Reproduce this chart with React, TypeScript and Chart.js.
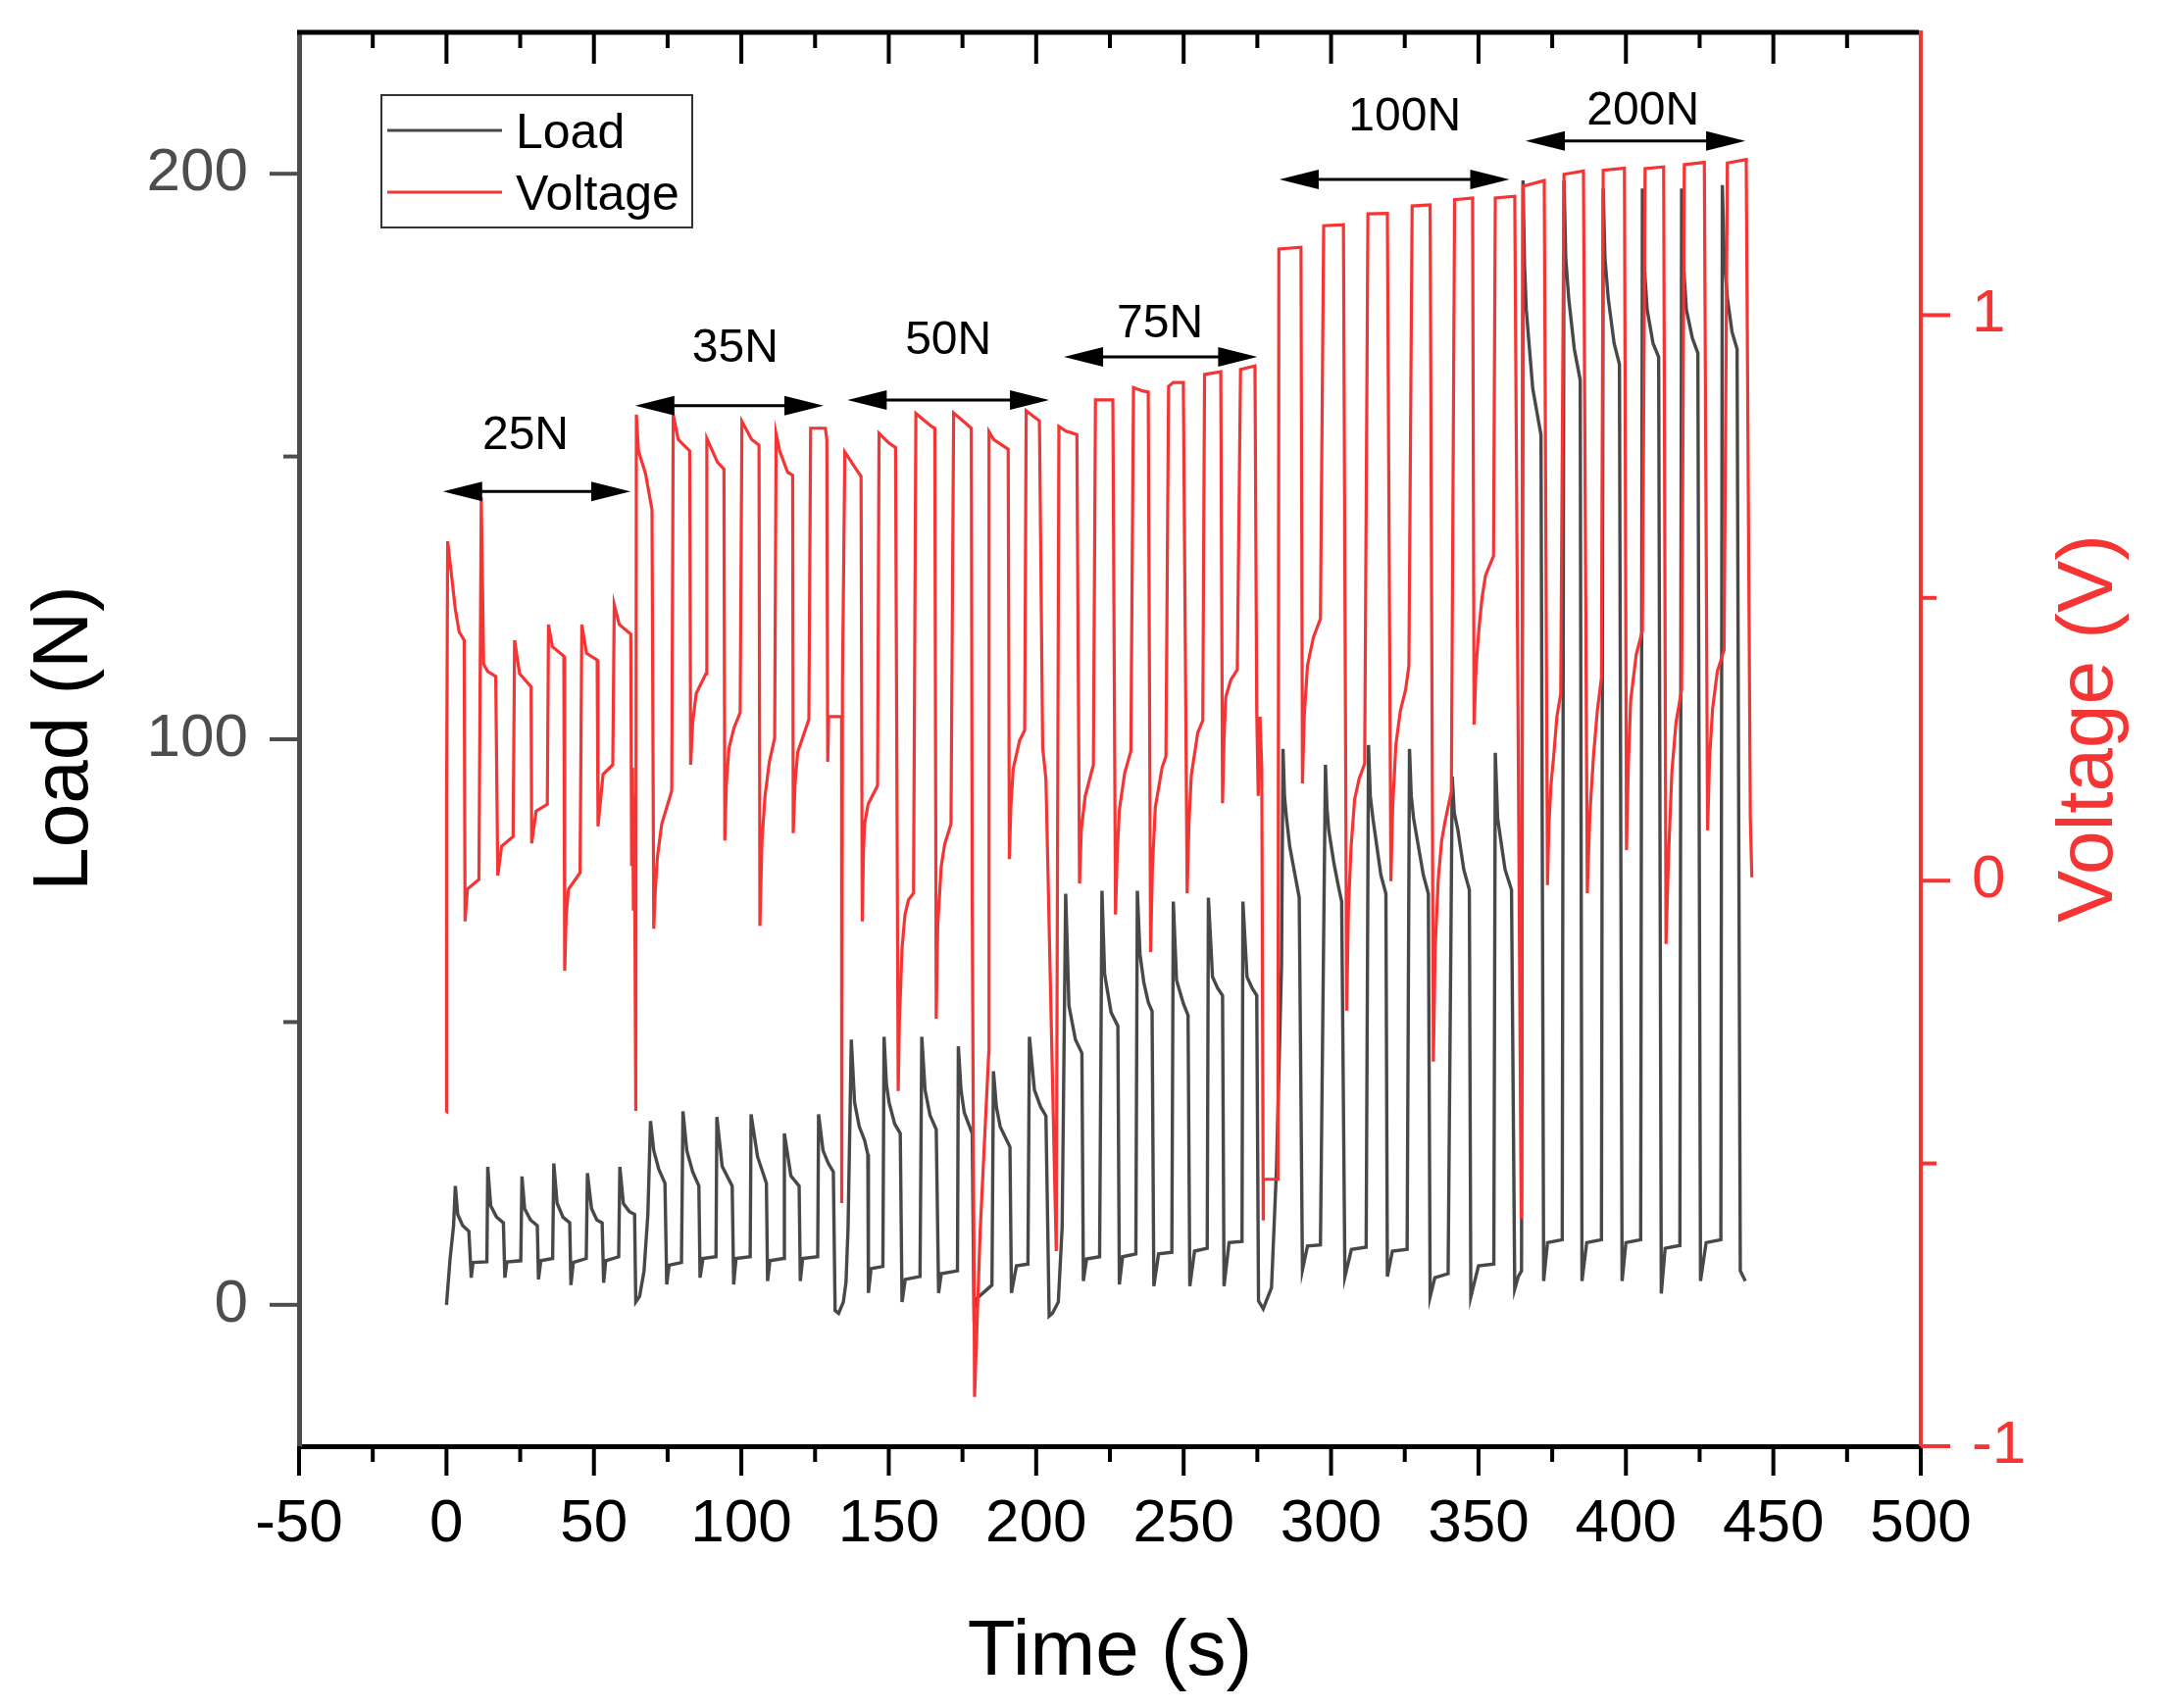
import React, { useEffect, useRef } from "react";
import { Chart, registerables } from "chart.js";

Chart.register(...registerables);

// ---------------- DATA (time s, value) ----------------
const load25: number[][] = [
  [0, 0], [1.2, 8], [2.4, 14], [3.0, 21], [3.8, 16], [5.5, 14], [7.6, 13], [8.4, 4.8], [9.0, 7.5], [13.7, 7.6],
  [14.0, 24.4], [15.0, 17.5], [17.0, 15.5], [19.3, 14.5], [19.8, 4.8], [20.5, 7.6], [25.2, 7.8],
  [25.6, 22.7], [26.5, 17.0], [28.5, 15.0], [30.8, 14.0], [31.2, 4.5], [32.0, 7.8], [36.0, 8.2],
  [36.4, 25.0], [37.5, 18.0], [39.5, 15.5], [41.8, 14.5], [42.2, 3.5], [43.0, 7.5], [47.4, 8.2],
  [47.8, 23.3], [49.2, 17.0], [51.0, 15.0], [52.8, 14.5], [53.3, 3.9], [54.0, 7.8], [58.4, 8.5],
  [58.8, 24.4], [60.0, 17.9], [62.0, 16.5], [63.8, 16.0], [64.2, 0.5],
];
const load35: number[][] = [
  [65.5, 1.5], [67.0, 6.0], [68.3, 16.0], [69.2, 32.5], [70.3, 27.3], [72.0, 24.0], [74.1, 21.5], [74.7, 3.6], [75.5, 7.0], [79.7, 7.5],
  [80.2, 34.2], [81.5, 27.3], [83.5, 23.5], [85.6, 21.0], [86.0, 4.8], [87.0, 8.2], [91.4, 8.5],
  [91.7, 33.2], [93.5, 24.5], [96.9, 21.0], [97.4, 3.6], [98.2, 8.2], [103.0, 8.5],
  [103.3, 33.7], [105.5, 26.2], [108.5, 21.5], [108.9, 4.2], [109.7, 7.8], [114.3, 8.2],
  [114.6, 30.3], [116.8, 22.8], [119.6, 21.0], [120.0, 4.2], [120.8, 8.2], [125.9, 8.5],
  [126.2, 33.7], [127.7, 27.3], [129.5, 25.0], [131.2, 23.5], [131.8, -1.0], [133.0, -1.5], [134.6, 0.5],
];
const load50: number[][] = [
  [135.5, 4.0], [136.2, 13.7], [137.3, 46.9], [138.4, 35.8], [140.0, 31.5], [141.8, 29.1], [142.9, 26.6], [143.1, 2.1], [144.0, 6.4], [148.0, 6.8],
  [148.4, 47.4], [149.2, 39.0], [150.1, 35.8], [152.0, 32.0], [153.9, 30.3], [154.5, 0.5], [155.6, 4.5], [160.6, 5.0],
  [161.2, 47.4], [162.3, 38.0], [164.0, 33.5], [166.1, 31.0], [166.9, 2.1], [167.8, 5.5], [173.3, 6.0],
  [173.6, 45.7], [174.5, 38.0], [175.6, 34.0], [178.3, 30.3], [178.9, -1.0], [180.0, 1.2], [185.0, 3.5],
  [185.5, 41.3], [186.5, 35.0], [187.8, 31.5], [191.1, 27.9], [191.6, 2.1], [193.3, 6.9], [197.2, 7.2],
  [197.7, 47.4], [199.4, 38.0], [201.5, 35.0], [203.3, 33.4], [204.4, -2.0], [205.5, -1.5], [207.5, 0.5], [208.8, 13.7],
];
const load75: number[][] = [
  [210.0, 72.7], [211.1, 52.9], [213.3, 46.9], [215.5, 44.5], [216.0, 4.2], [217.1, 8.1], [221.5, 8.5],
  [222.3, 73.2], [223.2, 58.5], [225.4, 51.7], [227.7, 49.3], [228.2, 3.6], [229.3, 8.5], [233.8, 9.0],
  [234.3, 73.2], [235.2, 62.0], [236.5, 57.0], [238.0, 53.5], [239.3, 51.9], [239.9, 3.3], [241.5, 9.0], [246.0, 9.3],
  [246.5, 71.3], [247.6, 57.4], [249.9, 53.3], [251.5, 51.2], [252.1, 3.3], [253.7, 9.5], [258.0, 10.0],
  [258.4, 72.0], [259.8, 58.0], [261.5, 56.0], [263.2, 54.7], [263.7, 3.3], [265.4, 11.0], [269.8, 11.2],
  [270.1, 71.3], [271.5, 58.0], [273.2, 56.0], [274.8, 54.7], [275.4, 0.7], [277.0, -0.7], [279.8, 3.0], [281.5, 24.2], [283.2, 60.0],
];
const load100: number[][] = [
  [283.7, 98.3], [284.2, 90.0], [284.8, 86.5], [286.0, 81.0], [287.0, 78.2], [289.2, 72.0], [290.3, 6.2], [292.0, 10.4], [296.4, 10.6],
  [298.1, 95.5], [298.6, 88.0], [299.2, 84.0], [301.0, 78.0], [302.5, 74.0], [303.6, 71.3], [304.7, 5.0], [306.9, 9.8], [311.9, 10.2],
  [312.7, 99.0], [313.3, 90.0], [314.2, 86.0], [316.9, 76.0], [318.6, 72.7], [319.1, 5.0], [320.8, 9.5], [325.8, 9.8],
  [326.6, 98.3], [327.2, 90.0], [328.0, 86.0], [331.3, 76.0], [333.0, 72.7], [333.6, 1.4], [335.2, 4.8], [339.7, 5.5],
  [341.1, 93.4], [341.8, 87.0], [343.0, 84.0], [345.0, 77.0], [346.9, 73.4], [347.4, 1.4], [350.0, 6.9], [355.2, 7.2],
  [355.7, 97.6], [356.5, 86.0], [359.0, 77.0], [361.2, 73.4], [362.3, 2.8], [363.5, 5.0], [364.6, 6.0],
];
const load200: number[][] = [
  [365.1, 198.8], [365.6, 184.0], [366.2, 176.0], [368.4, 162.0], [371.2, 153.8], [372.1, 4.2], [373.4, 11.0], [378.4, 11.5],
  [379.0, 198.8], [379.6, 185.0], [380.6, 178.0], [382.5, 169.0], [384.5, 163.5], [385.1, 4.2], [386.7, 11.0], [391.7, 11.5],
  [392.3, 197.4], [392.9, 185.0], [394.0, 178.0], [396.0, 170.0], [397.8, 166.3], [398.7, 4.2], [400.0, 11.0], [405.0, 11.5],
  [405.6, 197.4], [406.2, 184.0], [407.2, 176.0], [409.2, 170.0], [411.1, 167.6], [412.0, 2.0], [413.3, 10.0], [418.3, 10.5],
  [418.9, 197.4], [419.5, 184.0], [420.5, 176.0], [422.5, 171.0], [424.4, 168.3], [425.3, 4.2], [427.2, 11.0], [432.2, 11.5],
  [432.7, 198.0], [433.3, 186.0], [434.4, 178.0], [436.0, 172.0], [437.7, 169.0], [438.8, 6.0], [440.5, 4.2],
];

const volt25: number[][] = [
  [0.0, -0.41], [0.05, 0.15], [0.4, 0.6], [1.5, 0.55], [3.0, 0.48], [4.3, 0.44], [6.0, 0.425], [6.3, -0.072], [7.1, -0.015], [11.0, 0.002],
  [11.8, 0.678], [12.6, 0.383], [14.0, 0.37], [16.7, 0.361], [17.4, 0.009], [18.7, 0.061], [22.6, 0.078],
  [23.1, 0.425], [24.8, 0.366], [28.7, 0.343], [28.9, 0.066], [30.4, 0.123], [34.2, 0.135],
  [34.6, 0.453], [35.9, 0.414], [39.8, 0.397], [40.1, -0.159], [40.6, -0.06], [41.4, -0.015], [45.3, 0.014],
  [45.9, 0.453], [47.5, 0.402], [51.1, 0.39], [51.4, 0.096], [53.1, 0.188], [56.4, 0.205],
  [56.9, 0.488], [58.6, 0.453], [62.5, 0.436], [62.8, 0.026], [63.1, 0.2], [63.4, -0.05], [63.7, 0.15], [64.2, -0.407],
];
const volt35: number[][] = [
  [64.4, 0.824], [65.1, 0.76], [67.5, 0.72], [69.7, 0.656], [70.3, -0.085], [70.8, -0.02], [71.5, 0.04], [73.0, 0.1], [76.4, 0.159],
  [76.9, 0.824], [78.6, 0.78], [82.5, 0.76], [82.8, 0.205], [83.5, 0.28], [84.7, 0.331], [88.0, 0.366],
  [88.3, 0.782], [91.9, 0.74], [94.1, 0.728], [94.4, 0.071], [94.9, 0.17], [95.8, 0.234], [97.5, 0.27], [99.6, 0.297],
  [100.2, 0.812], [103.5, 0.78], [106.0, 0.77], [106.3, -0.08], [107.0, 0.07], [108.0, 0.148], [109.5, 0.21], [111.3, 0.252],
  [111.8, 0.79], [113.0, 0.76], [115.7, 0.722], [117.4, 0.717], [117.6, 0.084], [118.2, 0.17], [119.1, 0.227], [122.9, 0.285],
  [123.5, 0.8], [128.5, 0.8], [129.0, 0.78], [129.3, 0.21], [129.6, 0.29], [134.0, 0.29],
];
const volt50: number[][] = [
  [134.05, -0.57], [134.3, 0.35], [135.1, 0.758], [139.0, 0.727], [140.6, 0.715], [141.0, -0.072], [141.4, 0.05], [141.8, 0.1], [143.0, 0.135], [146.2, 0.168],
  [146.7, 0.791], [150.0, 0.774], [152.3, 0.766], [153.2, -0.372], [153.6, -0.25], [154.5, -0.12], [155.5, -0.06], [156.7, -0.034], [158.4, -0.022],
  [159.2, 0.826], [164.5, 0.803], [165.6, 0.8], [166.1, -0.244], [166.6, -0.08], [167.8, 0.026], [169.0, 0.065], [171.1, 0.1],
  [172.0, 0.827], [176.7, 0.806], [178.0, 0.8], [178.3, -0.03], [179.1, -0.913], [181.0, -0.62], [183.9, -0.305], [184.0, 0.794],
  [185.6, 0.78], [190.5, 0.763], [190.9, 0.038], [191.4, 0.13], [192.2, 0.198], [194.4, 0.248], [196.1, 0.266],
  [196.6, 0.831], [201.1, 0.813], [202.2, 0.236], [203.3, 0.18], [206.8, -0.655], [207.7, 0.803],
];
const volt75: number[][] = [
  [210.0, 0.795], [213.8, 0.789], [214.7, -0.005], [215.3, 0.09], [216.6, 0.149], [219.4, 0.205],
  [220.1, 0.85], [226.0, 0.85], [226.9, -0.06], [227.5, 0.05], [228.2, 0.125], [230.0, 0.19], [232.1, 0.229],
  [233.0, 0.872], [236.0, 0.866], [238.0, 0.864], [238.8, -0.126], [239.4, 0.02], [240.4, 0.13], [242.7, 0.2], [244.0, 0.22],
  [244.9, 0.874], [246.5, 0.881], [249.9, 0.881], [251.2, -0.022], [251.8, 0.1], [252.6, 0.186], [254.8, 0.262], [256.5, 0.283],
  [257.1, 0.895], [262.6, 0.9], [263.2, 0.137], [263.7, 0.25], [264.3, 0.325], [266.0, 0.355], [268.2, 0.373],
  [269.3, 0.904], [274.2, 0.91], [274.8, 0.297], [275.3, 0.15], [275.9, 0.29], [276.5, 0.2], [277.0, -0.598], [277.05, -0.528], [282.0, -0.528],
];
const volt100: number[][] = [
  [282.3, 1.117], [289.8, 1.12], [290.3, 0.172], [290.9, 0.29], [292.0, 0.38], [294.0, 0.43], [296.4, 0.463],
  [297.5, 1.158], [304.2, 1.16], [305.3, -0.23], [305.9, -0.05], [306.8, 0.06], [308.0, 0.144], [309.5, 0.18], [311.4, 0.207],
  [312.5, 1.179], [319.1, 1.18], [320.3, -0.001], [320.9, 0.13], [322.0, 0.241], [323.5, 0.3], [325.3, 0.338], [326.4, 0.38],
  [327.5, 1.193], [333.6, 1.195], [334.7, -0.32], [335.3, -0.12], [336.4, 0.006], [337.5, 0.07], [338.6, 0.103], [340.8, 0.158],
  [341.9, 1.204], [348.0, 1.207], [348.5, 0.276], [349.2, 0.38], [350.1, 0.442], [351.2, 0.5], [352.4, 0.54], [355.1, 0.574],
  [355.7, 1.207], [362.3, 1.21], [364.5, -0.598],
];
const volt200: number[][] = [
  [365.1, 1.228], [372.3, 1.238], [373.4, -0.008], [373.9, 0.1], [374.6, 0.17], [375.5, 0.22], [376.6, 0.29], [377.9, 0.331],
  [379.0, 1.249], [385.6, 1.255], [386.9, -0.022], [387.4, 0.06], [387.8, 0.12], [389.0, 0.22], [390.3, 0.3], [391.7, 0.359],
  [392.3, 1.256], [399.5, 1.26], [400.2, 0.054], [400.8, 0.2], [401.6, 0.318], [403.5, 0.4], [405.6, 0.442],
  [406.5, 1.259], [412.8, 1.262], [413.6, -0.112], [414.1, -0.02], [414.5, 0.05], [415.6, 0.193], [417.0, 0.28], [418.9, 0.338],
  [419.8, 1.266], [426.6, 1.27], [427.7, 0.089], [428.4, 0.22], [429.4, 0.304], [431.0, 0.37], [433.3, 0.408],
  [434.4, 1.269], [440.8, 1.275], [442.2, 0.11], [442.7, 0.006],
];

// annotation arrows (time range, load level) and labels
const annLabels = ["25N", "35N", "50N", "75N", "100N", "200N"];
const annStart = [-1.2, 64.0, 136.0, 209.4, 282.5, 366.0];
const annEnd = [62.4, 127.9, 204.4, 275.0, 360.5, 440.5];
const annArrowLoad = [143.8, 159.0, 160.0, 167.6, 199.0, 205.8];
const annLabelTime = [26.8, 97.9, 170.2, 242.0, 325.0, 405.8];
const annLabelLoad = [153.6, 169.0, 170.5, 173.4, 210.0, 211.0];

const xTicksMajor = [-50, 0, 50, 100, 150, 200, 250, 300, 350, 400, 450, 500];
const loadTicks = [0, 100, 200];
const loadMinorTicks = [50, 150];
const voltTicks = [-1, 0, 1];
const voltMinorTicks = [-0.5, 0.5];

const legendLabels = ["Load", "Voltage"];

// ---------------- STYLE ----------------
const FONT = '"Liberation Sans", Arial, Helvetica, sans-serif';
const GRAY = "#484848";
const AXIS_GRAY = "#4d4d4d";
const RED = "rgb(245,52,52)";

const toXY = (arr: number[][]) => arr.map(([x, y]) => ({ x, y }));

const framePlugin = {
  id: "frame",
  afterDatasetsDraw(chart: any) {
    const ctx = chart.ctx;
    const xs = chart.scales.x;
    const ys = chart.scales.y;
    ctx.save();
    ctx.strokeStyle = "#000";
    ctx.fillStyle = "#000";
    ctx.lineWidth = 3;
    const headL = 40;
    const headH = 10;
    for (let i = 0; i < annLabels.length; i++) {
      const x1 = xs.getPixelForValue(annStart[i]);
      const x2 = xs.getPixelForValue(annEnd[i]);
      const y = ys.getPixelForValue(annArrowLoad[i]);
      ctx.beginPath();
      ctx.moveTo(x1 + headL - 2, y);
      ctx.lineTo(x2 - headL + 2, y);
      ctx.stroke();
      ctx.beginPath();
      ctx.moveTo(x1, y);
      ctx.lineTo(x1 + headL, y - headH);
      ctx.lineTo(x1 + headL, y + headH);
      ctx.closePath();
      ctx.fill();
      ctx.beginPath();
      ctx.moveTo(x2, y);
      ctx.lineTo(x2 - headL, y - headH);
      ctx.lineTo(x2 - headL, y + headH);
      ctx.closePath();
      ctx.fill();
      ctx.font = `48px ${FONT}`;
      ctx.textAlign = "center";
      ctx.textBaseline = "middle";
      ctx.fillText(annLabels[i], xs.getPixelForValue(annLabelTime[i]), ys.getPixelForValue(annLabelLoad[i]));
    }
    ctx.restore();
  },
  afterDraw(chart: any) {
    const ctx = chart.ctx;
    const { left, right, top, bottom } = chart.chartArea;
    const xs = chart.scales.x;
    const ys = chart.scales.y;
    const y1 = chart.scales.y1;
    ctx.save();
    // top frame line
    ctx.strokeStyle = "#000";
    ctx.lineWidth = 5;
    ctx.beginPath();
    ctx.moveTo(left - 2, top);
    ctx.lineTo(right - 2, top);
    ctx.stroke();

    // x ticks (bottom outward, top inward)
    ctx.lineWidth = 4;
    for (let v = -50; v <= 500; v += 25) {
      const major = xTicksMajor.includes(v);
      const px = xs.getPixelForValue(v);
      const lb = major ? 30 : 16;
      const lt = major ? 32 : 16;
      ctx.beginPath();
      ctx.moveTo(px, bottom);
      ctx.lineTo(px, bottom + lb);
      ctx.stroke();
      if (v > -50 && v < 500) {
        ctx.beginPath();
        ctx.moveTo(px, top);
        ctx.lineTo(px, top + lt);
        ctx.stroke();
      }
    }
    // left ticks
    ctx.strokeStyle = AXIS_GRAY;
    loadTicks.forEach((v) => {
      const py = ys.getPixelForValue(v);
      ctx.beginPath();
      ctx.moveTo(left, py);
      ctx.lineTo(left - 30, py);
      ctx.stroke();
    });
    loadMinorTicks.forEach((v) => {
      const py = ys.getPixelForValue(v);
      ctx.beginPath();
      ctx.moveTo(left, py);
      ctx.lineTo(left - 16, py);
      ctx.stroke();
    });
    // right ticks
    ctx.strokeStyle = RED;
    voltTicks.forEach((v) => {
      const py = y1.getPixelForValue(v);
      ctx.beginPath();
      ctx.moveTo(right, py);
      ctx.lineTo(right + 30, py);
      ctx.stroke();
    });
    voltMinorTicks.forEach((v) => {
      const py = y1.getPixelForValue(v);
      ctx.beginPath();
      ctx.moveTo(right, py);
      ctx.lineTo(right + 16, py);
      ctx.stroke();
    });

    // axis titles
    ctx.font = `80px ${FONT}`;
    ctx.fillStyle = "#000";
    ctx.textAlign = "center";
    ctx.textBaseline = "alphabetic";
    ctx.fillText("Time (s)", (left + right) / 2, 1708);
    ctx.save();
    ctx.translate(89, 753);
    ctx.rotate(-Math.PI / 2);
    ctx.fillText("Load (N)", 0, 0);
    ctx.restore();
    ctx.save();
    ctx.fillStyle = RED;
    ctx.translate(2154, 743);
    ctx.rotate(-Math.PI / 2);
    ctx.fillText("Voltage (V)", 0, 0);
    ctx.restore();

    // legend
    const bx = 389, by = 97, bw = 317, bh = 135;
    ctx.fillStyle = "#fff";
    ctx.fillRect(bx, by, bw, bh);
    ctx.strokeStyle = "#333";
    ctx.lineWidth = 2;
    ctx.strokeRect(bx, by, bw, bh);
    const rows = [133, 196];
    const cols = [GRAY, RED];
    ctx.font = `50px ${FONT}`;
    ctx.textAlign = "left";
    ctx.textBaseline = "alphabetic";
    legendLabels.forEach((lab, i) => {
      ctx.strokeStyle = cols[i];
      ctx.lineWidth = 3;
      ctx.beginPath();
      ctx.moveTo(395, rows[i]);
      ctx.lineTo(512, rows[i]);
      ctx.stroke();
      ctx.fillStyle = "#000";
      ctx.fillText(lab, 526, rows[i] + 18);
    });
    ctx.restore();
  },
};

export default function App() {
  const ref = useRef<HTMLCanvasElement | null>(null);
  useEffect(() => {
    if (!ref.current) return;
    const loadData = toXY([...load25, ...load35, ...load50, ...load75, ...load100, ...load200]);
    const voltData = toXY([...volt25, ...volt35, ...volt50, ...volt75, ...volt100, ...volt200]);
    const tickFont = { family: FONT, size: 62, lineHeight: 1.2 };
    // y-axis labels are offset with an (undrawn) tick length so that the
    // label padding does not push the chart area down
    const yGrid = { display: false, drawTicks: true, tickLength: 52 };
    const chart = new Chart(ref.current, {
      type: "line",
      data: {
        datasets: [
          {
            label: legendLabels[1],
            data: voltData,
            yAxisID: "y1",
            borderColor: RED,
            borderWidth: 3.2,
            pointRadius: 0,
            tension: 0,
            order: 0,
          },
          {
            label: legendLabels[0],
            data: loadData,
            yAxisID: "y",
            borderColor: GRAY,
            borderWidth: 3.4,
            pointRadius: 0,
            tension: 0,
            order: 1,
          },
        ],
      },
      options: {
        responsive: false,
        animation: false,
        devicePixelRatio: 1,
        events: [],
        layout: { padding: { top: 33, left: 0, right: 0, bottom: 0 } },
        plugins: { legend: { display: false }, tooltip: { enabled: false } },
        scales: {
          x: {
            type: "linear",
            position: "bottom",
            min: -50,
            max: 500,
            grid: { display: false, drawTicks: false },
            border: { display: true, color: "#000", width: 5 },
            ticks: { stepSize: 50, color: "#000", font: tickFont, padding: 43, maxRotation: 0, autoSkip: false },
            afterFit: (s: any) => {
              s.height = 267;
            },
          },
          y: {
            type: "linear",
            position: "left",
            min: -25,
            max: 225,
            grid: yGrid,
            border: { display: true, color: AXIS_GRAY, width: 5 },
            ticks: { color: AXIS_GRAY, font: { family: FONT, size: 62, lineHeight: 1 }, padding: 0 },
            afterBuildTicks: (s: any) => {
              s.ticks = loadTicks.map((v) => ({ value: v }));
            },
            afterFit: (s: any) => {
              s.width = 305;
            },
          },
          y1: {
            type: "linear",
            position: "right",
            min: -1,
            max: 1.5,
            grid: yGrid,
            border: { display: true, color: RED, width: 4 },
            ticks: { color: RED, font: { family: FONT, size: 62, lineHeight: 1 }, padding: 0 },
            afterBuildTicks: (s: any) => {
              s.ticks = voltTicks.map((v) => ({ value: v }));
            },
            afterFit: (s: any) => {
              s.width = 245;
            },
          },
        },
      } as any,
      plugins: [framePlugin],
    });
    return () => chart.destroy();
  }, []);
  return (
    <div style={{ position: "fixed", left: 0, top: 0, width: 2204, height: 1742, background: "#fff" }}>
      <canvas ref={ref} width={2204} height={1742} style={{ width: 2204, height: 1742, display: "block" }} />
    </div>
  );
}
